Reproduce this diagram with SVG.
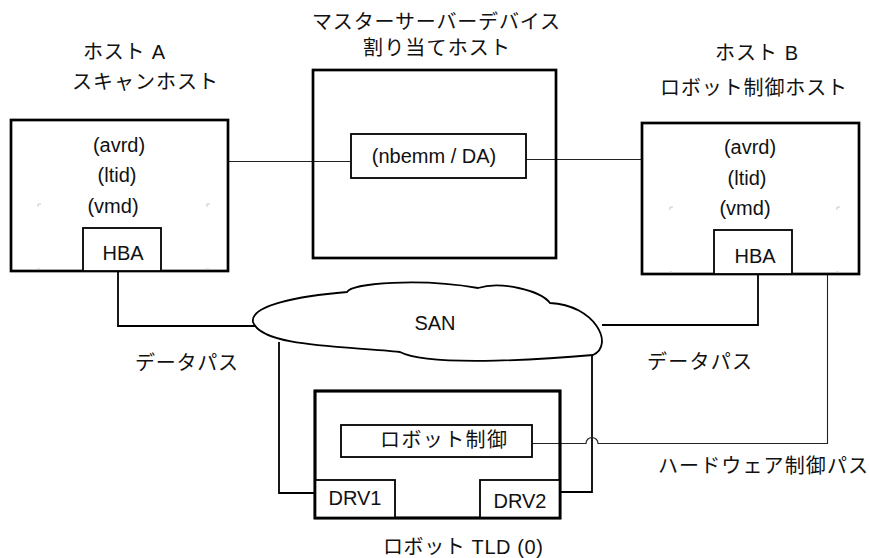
<svg xmlns="http://www.w3.org/2000/svg" width="870" height="558" viewBox="0 0 870 558">
<style>
.t{font-family:"Liberation Sans","Noto Sans CJK JP",sans-serif;font-size:20px;fill:#111}
.c{text-anchor:middle}
.box{fill:none;stroke:#000;stroke-width:2.7}
.inner{fill:#fff;stroke:#000;stroke-width:1.8}
.data{fill:none;stroke:#000;stroke-width:1.8}
.thin{fill:none;stroke:#222;stroke-width:1.1}
.mark{fill:none;stroke:#bbb;stroke-width:0.8}
</style>
<rect width="870" height="558" fill="#fff"/>
<g id="connectors">
<path class="thin" d="M228,161.5 H351"/>
<path class="thin" d="M526,159.5 H642"/>
<path class="data" d="M118,271 V326 H255"/>
<path class="data" d="M758,274 V325 H602"/>
<path class="data" d="M279,342 V493 H315"/>
<path class="data" d="M592,356 V492 H560"/>
<path class="thin" d="M532,443.5 H586 A6,6 0 0 1 598,443.5 H827.5 V274"/>
</g>
<g id="hostA">
<text class="t" x="83" y="59" textLength="82" lengthAdjust="spacing">ホスト A</text>
<text class="t" x="72" y="89" textLength="146" lengthAdjust="spacing">スキャンホスト</text>
<rect class="box" x="11" y="120" width="217" height="151"/>
<text class="t c" x="119" y="152">(avrd)</text>
<text class="t c" x="117" y="182">(ltid)</text>
<text class="t c" x="113" y="213">(vmd)</text>
<path class="mark" d="M38,207 V204 H41 M207,207 V204 H210 M37,269 H40 M206,269 H209"/>
<g id="hbaA"><rect class="inner" x="83" y="228" width="78" height="43"/>
<text class="t c" x="123" y="260">HBA</text></g>
</g>
<g id="master">
<text class="t" x="312" y="29" textLength="248" lengthAdjust="spacing">マスターサーバーデバイス</text>
<text class="t" x="363" y="55" textLength="147" lengthAdjust="spacing">割り当てホスト</text>
<rect class="box" x="313" y="70" width="243" height="188"/>
<g id="nbemm"><rect class="inner" x="351" y="134" width="175" height="44"/>
<text class="t c" x="434" y="163">(nbemm / DA)</text></g>
</g>
<g id="hostB">
<text class="t" x="715" y="60" textLength="83" lengthAdjust="spacing">ホスト B</text>
<text class="t" x="660" y="95" textLength="187" lengthAdjust="spacing">ロボット制御ホスト</text>
<rect class="box" x="642" y="123" width="217" height="151"/>
<text class="t c" x="750" y="154">(avrd)</text>
<text class="t c" x="747" y="185">(ltid)</text>
<text class="t c" x="745" y="215">(vmd)</text>
<path class="mark" d="M670,210 V207 H673 M837,210 V207 H840 M669,272 H672 M836,272 H839"/>
<g id="hbaB"><rect class="inner" x="714" y="230" width="78" height="44"/>
<text class="t c" x="755" y="263">HBA</text></g>
</g>
<g id="san">
<path fill="#fff" stroke="#000" stroke-width="1.8" d="M253,322 C250,305 300,296 347,292 C352,283 420,278 478,288 C500,281 540,290 550,303 C595,305 615,345 593,355 C560,358 430,368 400,352 C350,346 262,348 253,322 Z"/>
<text class="t c" x="435" y="330">SAN</text>
</g>
<g id="labels">
<text class="t" x="135" y="370" textLength="103" lengthAdjust="spacing">データパス</text>
<text class="t" x="647" y="369" textLength="105" lengthAdjust="spacing">データパス</text>
<text class="t" x="658" y="473" textLength="210" lengthAdjust="spacing">ハードウェア制御パス</text>
</g>
<g id="robot">
<rect class="box" x="315" y="391" width="245" height="127"/>
<g id="robotControl"><rect class="inner" x="341" y="425" width="191" height="32"/>
<text class="t" x="380" y="447" textLength="127" lengthAdjust="spacing">ロボット制御</text></g>
<g id="drv1"><rect class="inner" x="315" y="480" width="80" height="38"/>
<text class="t c" x="355" y="505">DRV1</text></g>
<g id="drv2"><rect class="inner" x="480" y="480" width="80" height="38"/>
<text class="t c" x="520" y="508">DRV2</text></g>
<rect class="box" x="315" y="391" width="245" height="127"/>
<text class="t" x="383" y="554" textLength="160" lengthAdjust="spacing">ロボット TLD (0)</text>
</g>
</svg>
